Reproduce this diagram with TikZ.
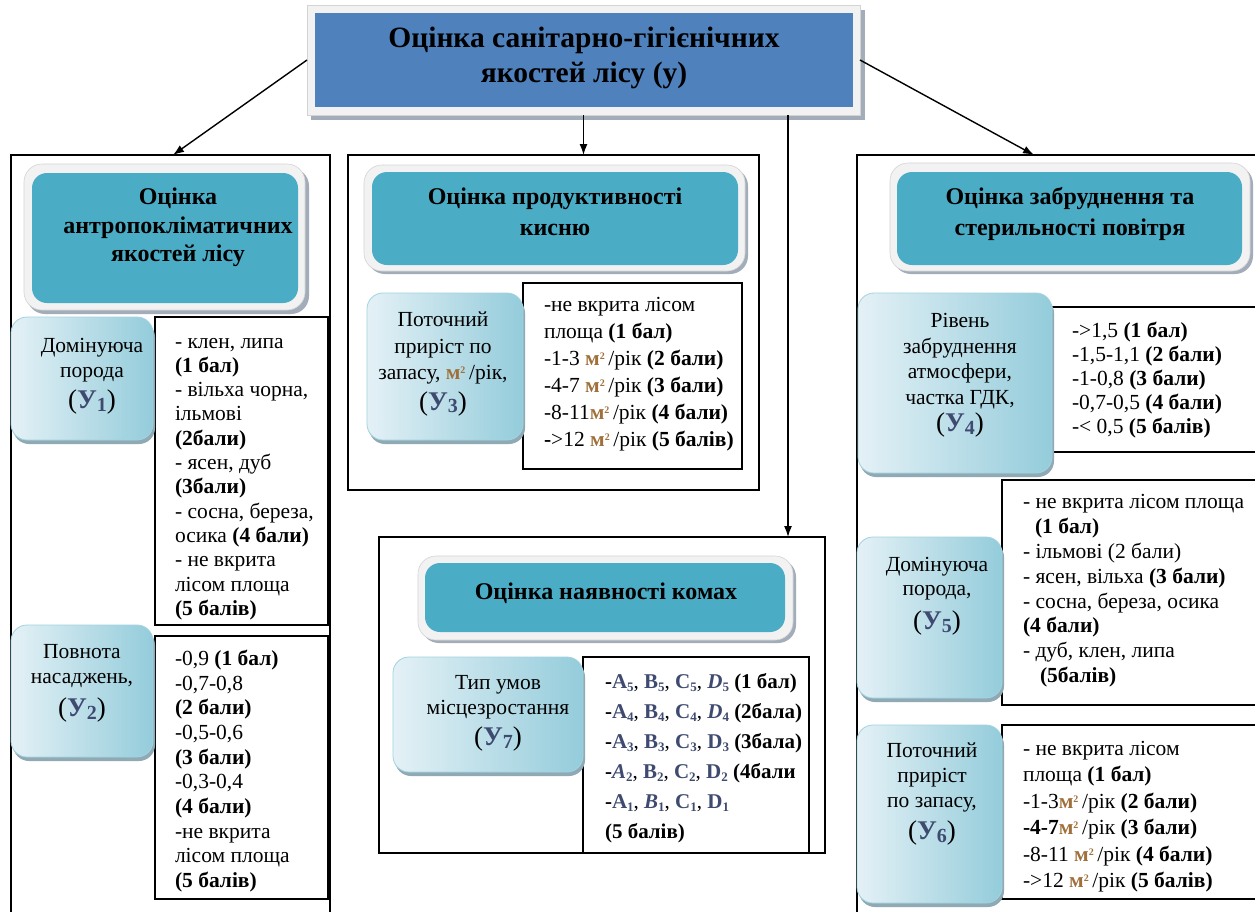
\documentclass[tikz,border=0pt]{standalone}
\usepackage{fontspec}
\setmainfont{Liberation Serif}
\usetikzlibrary{arrows.meta}
\definecolor{topblue}{HTML}{4F81BD}
\definecolor{hteal}{HTML}{4BACC6}
\definecolor{frm}{HTML}{F2F2F2}
\definecolor{frmline}{HTML}{D4D4D4}
\definecolor{shd}{HTML}{A3ADB9}
\definecolor{ylight}{HTML}{E4F1F6}
\definecolor{ydark}{HTML}{94CCDB}
\definecolor{yline}{HTML}{A2D3E0}
\definecolor{yshd}{HTML}{8FAAB5}
\definecolor{ycol}{HTML}{3E4A70}
\definecolor{mcol}{HTML}{A0703A}
\newcommand{\yv}[1]{{\fontsize{27}{27}\selectfont(\textcolor{ycol}{\textbf{У}\raisebox{-2.5pt}{\fontsize{20}{20}\selectfont\textbf{#1}}})}}
\newcommand{\msq}{\textcolor{mcol}{\textbf{м}\raisebox{6pt}{\fontsize{10}{10}\selectfont\textbf{2}}}}
\newcommand{\lett}[2]{\textcolor{ycol}{\textbf{#1}\raisebox{-3pt}{\fontsize{13}{13}\selectfont\textbf{#2}}}}
\newcommand{\letti}[2]{\textcolor{ycol}{\textbf{\textit{#1}}\raisebox{-3pt}{\fontsize{13}{13}\selectfont\textbf{#2}}}}
\newcommand{\bx}[6]{\node[#1, anchor=north west, minimum width={#5-#3}, minimum height={#6-#4}] (#2) at (#3,#4) {};}
\begin{document}
\begin{tikzpicture}[x=1pt,y=-1pt,
  every node/.style={inner sep=0pt, outer sep=0pt},
  panel/.style={draw=black, line width=1.4pt},
  listbox/.style={draw=black, line width=1.4pt, fill=white},
  topshadow/.style={fill=shd},
  topframe/.style={fill=frm, draw=frmline, line width=0.6pt},
  topbox/.style={fill=topblue},
  hshadow/.style={fill=shd, rounded corners=18pt},
  hframe/.style={fill=frm, draw=frmline, line width=0.6pt, rounded corners=18pt},
  hbox/.style={fill=hteal, rounded corners=15pt},
  yshadow/.style={fill=yshd, rounded corners=16pt},
  ybox/.style={left color=ylight, right color=ydark, draw=yline, line width=0.8pt, rounded corners=16pt},
  body/.style={font=\fontsize{21.5}{24.3}\selectfont, align=left, anchor=north west},
  ytxt/.style={font=\fontsize{21.5}{25}\selectfont, align=center, anchor=north},
  htxt/.style={font=\bfseries\fontsize{24}{30}\selectfont, align=center, anchor=north},
  arr/.style={line width=1.4pt, -{Latex[length=11pt,width=8pt]}}
]
\useasboundingbox (0,0) rectangle (1255,911);
\clip (0,0) rectangle (1255,911);
\fill[white] (0,0) rectangle (1255,911);

% ---------- top box ----------
\bx{topshadow}{tops}{311}{10}{865}{120}
\bx{topframe}{topf}{307}{5}{860}{115}
\bx{topbox}{topb}{315}{13}{853}{107}
\node[font=\bfseries\fontsize{29.5}{35}\selectfont, align=center, anchor=north] (title) at (584,23)
  {\strut Оцінка санітарно-гігієнічних\\якостей лісу (у)};

% ---------- panels ----------
\bx{panel}{lp}{11}{155}{330}{940}
\bx{panel}{mp}{348}{155}{759}{490}
\bx{panel}{bp}{379}{537}{825}{853}
\bx{panel}{rp}{857}{155}{1300}{940}

% ---------- arrows ----------
\coordinate (e1) at (173,155);
\coordinate (s3) at (788,115);
\coordinate (e4) at (1034,155);
\draw[arr] (topf.west) -- (e1);
\draw[arr] (topf.south) -- (topf.south |- mp.north);
\draw[arr] (s3) -- (s3 |- bp.north);
\draw[arr] (topf.east) -- (e4);

% ---------- left panel ----------
\bx{hshadow}{lhs}{27}{168}{309}{314}
\bx{hframe}{lhf}{24}{164}{305}{310}
\bx{hbox}{lhb}{32}{173}{298}{303}
\node[htxt, font=\bfseries\fontsize{24}{28.5}\selectfont] (lht) at (178,185) {\strut Оцінка\\антропокліматичних\\якостей лісу};

\bx{listbox}{l1}{155}{317}{328}{625}
\begin{scope}
\clip (155,317) rectangle (328,624);
\node[body] (l1t) at (175,331) {\strut - клен, липа\\\textbf{(1 бал)}\\- вільха чорна,\\ільмові\\\textbf{(2бали)}\\- ясен, дуб\\\textbf{(3бали)}\\- сосна, береза,\\осика \textbf{(4 бали)}\\- не вкрита\\лісом площа\\\textbf{(5 балів)}};
\end{scope}
\bx{yshadow}{y1s}{13}{321}{155}{444}
\bx{ybox}{y1}{11}{317}{153}{440}
\node[ytxt] (y1t) at (92,335) {\strut Домінуюча\\порода\\[6pt]\yv{1}};

\bx{listbox}{l2}{155}{636}{328}{899}
\node[body, font=\fontsize{21.5}{24.7}\selectfont] (l2t) at (175,648) {\strut -0,9 \textbf{(1 бал)}\\-0,7-0,8\\\textbf{(2 бали)}\\-0,5-0,6\\\textbf{(3 бали)}\\-0,3-0,4\\\textbf{(4 бали)}\\-не вкрита\\лісом площа\\\textbf{(5 балів)}};
\bx{yshadow}{y2s}{13}{629}{155}{761}
\bx{ybox}{y2}{11}{625}{153}{757}
\node[ytxt] (y2t) at (82,641) {\strut Повнота\\насаджень,\\[8pt]\yv{2}};

% ---------- middle panel ----------
\bx{hshadow}{mhs}{367}{168}{748}{274}
\bx{hframe}{mhf}{364}{165}{745}{271}
\bx{hbox}{mhb}{372}{172}{738}{265}
\node[htxt, font=\bfseries\fontsize{24}{31}\selectfont] (mht) at (555,183) {\strut Оцінка продуктивності\\кисню};

\bx{listbox}{l3}{523}{283}{742}{469}
\node[body, font=\fontsize{21.5}{27}\selectfont] (l3t) at (544,293) {\strut -не вкрита лісом\\площа \textbf{(1 бал)}\\-1-3 \msq\,/рік \textbf{(2 бали)}\\-4-7 \msq\,/рік \textbf{(3 бали)}\\-8-11\msq\,/рік \textbf{(4 бали)}\\\textbf{-}>12 \msq\,/рік \textbf{(5 балів)}};
\bx{yshadow}{y3s}{369}{297}{525}{444}
\bx{ybox}{y3}{367}{293}{523}{440}
\node[ytxt, font=\fontsize{21.5}{26.5}\selectfont] (y3t) at (443,308) {\strut Поточний\\приріст по\\запасу, \msq\,/рік,\\[4pt]\yv{3}};

% ---------- bottom middle panel ----------
\bx{hshadow}{bhs}{421}{559}{796}{643}
\bx{hframe}{bhf}{418}{556}{793}{640}
\bx{hbox}{bhb}{425}{563}{785}{632}
\node[htxt, anchor=base] (bht) at (606,599) {Оцінка наявності комах};

\bx{listbox}{l7}{583}{657}{809}{853}
\node[body, font=\fontsize{21}{30}\selectfont] (l7t) at (605,667) {\strut \textbf{-}\lett{A}{5}, \lett{B}{5}, \lett{C}{5}, \letti{D}{5} \textbf{(1 бал)}\\\textbf{-}\lett{A}{4}, \lett{B}{4}, \lett{C}{4}, \letti{D}{4} \textbf{(2бала)}\\\textbf{-}\lett{A}{3}, \lett{B}{3}, \lett{C}{3}, \lett{D}{3} \textbf{(3бала)}\\\textbf{-}\letti{A}{2}, \lett{B}{2}, \lett{C}{2}, \lett{D}{2} \textbf{(4бали}\\\textbf{-}\lett{A}{1}, \letti{B}{1}, \lett{C}{1}, \lett{D}{1}\\\textbf{(5 балів)}};
\bx{yshadow}{y7s}{395}{661}{585}{776}
\bx{ybox}{y7}{393}{657}{583}{772}
\node[ytxt] (y7t) at (498,672) {\strut Тип умов\\місцезростання\\[6pt]\yv{7}};

% ---------- right panel ----------
\bx{hshadow}{rhs}{893}{166}{1253}{274}
\bx{hframe}{rhf}{890}{163}{1250}{271}
\bx{hbox}{rhb}{897}{172}{1242}{265}
\node[htxt, font=\bfseries\fontsize{24}{31}\selectfont] (rht) at (1070,183) {\strut Оцінка забруднення та\\стерильності повітря};

\bx{listbox}{l4}{1052}{307}{1262}{452}
\node[body, font=\fontsize{21.5}{24}\selectfont] (l4t) at (1072,321) {\strut ->1,5 \textbf{(1 бал)}\\-1,5-1,1 \textbf{(2 бали)}\\-1-0,8 \textbf{(3 бали)}\\-0,7-0,5 \textbf{(4 бали)}\\-< 0,5 \textbf{(5 балів)}};
\bx{yshadow}{y4s}{860}{297}{1054}{477}
\bx{ybox}{y4}{858}{293}{1052}{473}
\node[ytxt, font=\fontsize{21.5}{25.5}\selectfont] (y4t) at (960,310) {\strut Рівень\\забруднення\\атмосфери,\\частка ГДК,\\[2pt]\yv{4}};

\bx{listbox}{l5}{1002}{480}{1262}{705}
\node[body, font=\fontsize{21.5}{24.9}\selectfont] (l5t) at (1023,491) {\strut - не вкрита лісом площа\\\hspace*{12pt}\textbf{(1 бал)}\\- ільмові (2 бали)\\- ясен, вільха \textbf{(3 бали)}\\- сосна, береза, осика\\\textbf{(4 бали)}\\- дуб, клен, липа\\\hspace*{17pt}\textbf{(5балів)}};
\bx{yshadow}{y5s}{859}{541}{1004}{702}
\bx{ybox}{y5}{857}{537}{1002}{698}
\node[ytxt, font=\fontsize{21.5}{24}\selectfont] (y5t) at (937,555) {\strut Домінуюча\\порода,\\[10pt]\yv{5}};

\bx{listbox}{l6}{1002}{725}{1262}{899}
\begin{scope}
\clip (1002,725) rectangle (1262,898);
\node[body, font=\fontsize{21.5}{26.4}\selectfont] (l6t) at (1023,737) {\strut - не вкрита лісом\\площа \textbf{(1 бал)}\\-1-3\msq\,/рік \textbf{(2 бали)}\\\textbf{-4-7}\msq\,/рік \textbf{(3 бали)}\\-8-11 \msq\,/рік \textbf{(4 бали)}\\->12 \msq\,/рік \textbf{(5 балів)}};
\end{scope}
\bx{yshadow}{y6s}{859}{729}{1004}{907}
\bx{ybox}{y6}{857}{725}{1002}{903}
\node[ytxt] (y6t) at (932,740) {\strut Поточний\\приріст\\по запасу,\\[7pt]\yv{6}};
\end{tikzpicture}
\end{document}
